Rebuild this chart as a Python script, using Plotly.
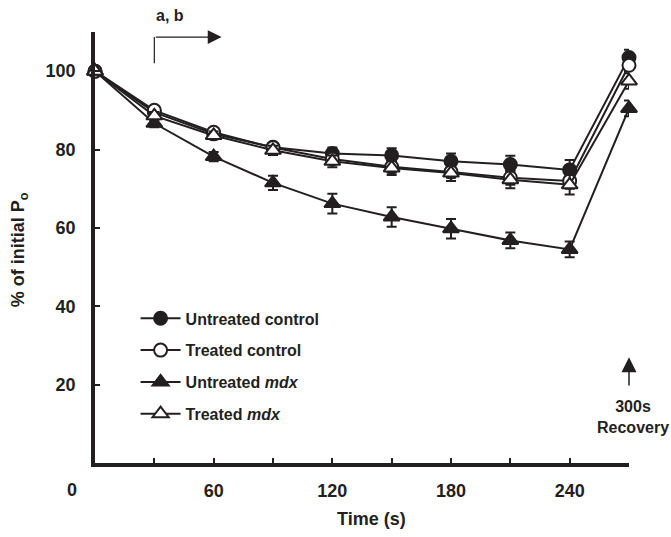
import plotly.graph_objects as go

time_s = [0, 30, 60, 90, 120, 150, 180, 210, 240, 270]

untreated_control = [100, 89.5, 84.0, 80.6, 79.0, 78.5, 77.0, 76.2, 74.8, 103.5]
untreated_control_err = [0, 1.0, 1.0, 1.0, 1.5, 1.8, 2.0, 2.2, 2.5, 2.0]

treated_control = [100, 90.0, 84.4, 80.5, 77.6, 75.6, 74.3, 72.8, 72.0, 101.5]
treated_control_err = [0, 1.0, 1.0, 1.0, 1.2, 1.5, 1.5, 1.8, 2.0, 1.5]

untreated_mdx = [100, 86.7, 78.2, 71.5, 66.2, 62.8, 59.8, 56.8, 54.5, 90.5]
untreated_mdx_err = [0, 1.0, 1.2, 1.8, 2.5, 2.5, 2.5, 2.0, 2.0, 2.0]

treated_mdx = [100, 88.6, 83.6, 79.8, 77.0, 75.3, 74.0, 72.3, 71.0, 97.5]
treated_mdx_err = [0, 1.0, 1.0, 1.2, 1.5, 1.8, 2.0, 2.2, 2.5, 2.0]

series_names = ["Untreated control", "Treated control", "Untreated <i>mdx</i>", "Treated <i>mdx</i>"]

x_tick_vals = [30, 60, 90, 120, 150, 180, 210, 240, 270]
x_tick_text = ["", "60", "", "120", "", "180", "", "240", ""]
y_tick_vals = [20, 40, 60, 80, 100]
y_tick_text = ["20", "40", "60", "80", "100"]

INK = "#231f20"
FONT = "Liberation Sans, Arial, sans-serif"

fig = go.Figure()

specs = [
    (untreated_control, untreated_control_err, "circle", INK),
    (treated_control, treated_control_err, "circle", "white"),
    (untreated_mdx, untreated_mdx_err, "triangle-up", INK),
    (treated_mdx, treated_mdx_err, "triangle-up", "white"),
]

for i, ((vals, errs, sym, fill), name) in enumerate(zip(specs, series_names)):
    fig.add_trace(go.Scatter(
        x=time_s, y=vals, name=name, mode="lines+markers",
        legendgroup=str(i),
        line=dict(color=INK, width=2),
        marker=dict(symbol=sym, size=13 if sym == "circle" else 14, color=fill,
                    line=dict(color=INK, width=2)),
        error_y=dict(type="data", array=errs, visible=True, color=INK,
                     thickness=2, width=5),
        cliponaxis=False,
    ))

fig.update_layout(
    width=671, height=537,
    margin=dict(l=95, r=42, t=32, b=74),
    paper_bgcolor="white", plot_bgcolor="white",
    font=dict(family=FONT, size=18, color=INK),
    showlegend=True,
    legend=dict(x=0.076, y=0.375, xanchor="left", yanchor="top",
                font=dict(size=16, family=FONT, color=INK, weight="bold"),
                bgcolor="rgba(0,0,0,0)", tracegroupgap=8, itemwidth=40),
    xaxis=dict(range=[0, 270], showgrid=False, zeroline=False,
               showline=True, linewidth=3.5, linecolor=INK,
               ticks="inside", ticklen=5, tickwidth=2, tickcolor=INK,
               tickvals=x_tick_vals, ticktext=x_tick_text,
               ticklabelstandoff=9,
               tickfont=dict(size=18, family=FONT, color=INK, weight="bold")),
    yaxis=dict(range=[0, 110], showgrid=False, zeroline=False,
               showline=True, linewidth=3.5, linecolor=INK,
               ticks="inside", ticklen=5, tickwidth=2, tickcolor=INK,
               tickvals=y_tick_vals, ticktext=y_tick_text,
               ticklabelstandoff=12,
               tickfont=dict(size=18, family=FONT, color=INK, weight="bold")),
)

# origin label
fig.add_annotation(x=0, y=0, xref="x", yref="y", text="<b>0</b>", showarrow=False,
                   xshift=-23, yshift=-27, font=dict(size=18, family=FONT, color=INK))
# axis titles
fig.add_annotation(x=0.518, y=-0.13, xref="paper", yref="paper", text="<b>Time (s)</b>",
                   showarrow=False, xanchor="center", yanchor="middle",
                   font=dict(size=18, family=FONT, color=INK))
fig.add_annotation(x=-0.141, y=0.495, xref="paper", yref="paper",
                   text="<b>% of initial P<sub>o</sub></b>", textangle=-90,
                   showarrow=False, xanchor="center", yanchor="middle",
                   font=dict(size=18, family=FONT, color=INK))

# a, b arrow
fig.add_shape(type="line", x0=30, x1=30, y0=102, y1=108.7, xref="x", yref="y",
              line=dict(color=INK, width=1.2))
fig.add_annotation(x=64, y=108.7, ax=30, ay=108.7, xref="x", yref="y",
                   axref="x", ayref="y", text="", showarrow=True,
                   arrowhead=2, arrowsize=2.3, arrowwidth=1.2, arrowcolor=INK)
fig.add_annotation(x=(170 - 95) / 534, y=1.038, xref="paper", yref="paper",
                   text="<b>a, b</b>", showarrow=False,
                   xanchor="center", yanchor="middle",
                   font=dict(size=16, family=FONT, color=INK))

# recovery arrow
fig.add_annotation(x=270, y=27, ax=270, ay=19.4, xref="x", yref="y",
                   axref="x", ayref="y", text="", showarrow=True,
                   arrowhead=2, arrowsize=2.0, arrowwidth=1.5, arrowcolor=INK)
fig.add_annotation(x=1.0, y=11.7 / 110, xref="paper", yref="paper",
                   text="<b>300s<br>Recovery</b>", showarrow=False,
                   xanchor="center", xshift=4, yanchor="middle",
                   font=dict(size=16, family=FONT, color=INK))

fig.write_html("out.html",
               config={"displayModeBar": False},
               post_script="document.body.style.margin='0';document.body.style.overflow='hidden';")
